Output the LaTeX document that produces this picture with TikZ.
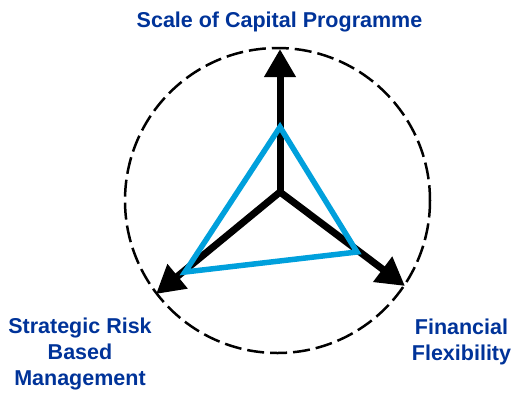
\documentclass[tikz,border=0pt]{standalone}
\usepackage{fontspec}
\setmainfont{Liberation Sans}
\usetikzlibrary{arrows.meta}
\definecolor{labelblue}{RGB}{0,51,153}
\definecolor{triblue}{RGB}{0,160,220}
\begin{document}
\begin{tikzpicture}[x=1pt,y=-1pt,
  axis/.style={line width=7pt,-{Triangle[width=30pt,length=28pt]}},
  tri/.style={draw=triblue,line width=5.5pt,line join=miter},
  lbl/.style={font=\bfseries\fontsize{21.5}{26}\selectfont,text=labelblue,align=center,inner sep=0pt,anchor=base}]
\useasboundingbox (0,0) rectangle (512,392);
\coordinate (c) at (280,192);
\coordinate (cc) at (277.5,200.5);
\coordinate (tT) at (280,49);
\coordinate (tL) at (156,294);
\coordinate (tR) at (405,286);
\coordinate (bT) at (280,127);
\coordinate (bL) at (185,272);
\coordinate (bR) at (357,252);
\draw[line width=2.5pt,dash pattern=on 17pt off 6pt] (cc) circle (152.5);
\draw[axis] (c) -- (tT);
\draw[axis] (c) -- (tL);
\draw[axis] (c) -- (tR);
\draw[tri] (bT) -- (bL) -- (bR) -- cycle;
\node[lbl] (top) at (279.5,27) {Scale of Capital Programme};
\node[lbl] (left) at (80,385) {Strategic Risk\\Based\\Management};
\node[lbl] (right) at (461.5,360) {Financial\\Flexibility};
\end{tikzpicture}
\end{document}
